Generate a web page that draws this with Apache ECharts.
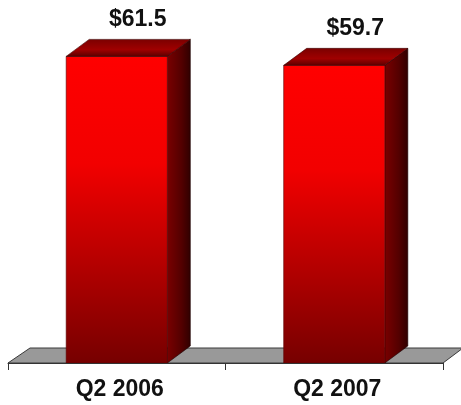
<!DOCTYPE html>
<html>
<head>
<meta charset="utf-8">
<script src="https://cdn.jsdelivr.net/npm/echarts@6/dist/echarts.min.js"></script>
<style>
html,body{margin:0;padding:0;background:#fff;}
#chart{width:461px;height:405px;}
</style>
</head>
<body>
<div id="chart"></div>
<script>
const categories = ['Q2 2006', 'Q2 2007'];
const values = [61.5, 59.7];
const valueLabels = ['$61.5', '$59.7'];

const DX = 23, DY = 17;
const FONT = '"Liberation Sans", Arial, sans-serif';

const chart = echarts.init(document.getElementById('chart'), null, {renderer: 'canvas'});

function renderFloor(params, api) {
  const cs = params.coordSys;
  const yb = cs.y + cs.height;
  const xl = cs.x, xr = cs.x + cs.width;
  return {
    type: 'polygon',
    shape: {points: [[xl, yb], [xr, yb], [xr + DX - 3, yb - DY + 2], [xl + DX - 1, yb - DY + 2]]},
    style: {fill: '#999999', stroke: '#3a3a3a', lineWidth: 1}
  };
}

function renderBar(params, api) {
  const idx = api.value(0);
  const top = api.coord([idx, api.value(1)]);
  const base = api.coord([idx, 0]);
  const bw = api.size([1, 0])[0] * 0.465;
  const x0 = top[0] - bw / 2, x1 = top[0] + bw / 2;
  const yt = top[1], yb = base[1];
  return {
    type: 'group',
    children: [
      {
        type: 'polygon',
        shape: {points: [[x1, yt], [x1 + DX, yt - DY], [x1 + DX, yb - DY], [x1, yb]]},
        style: {
          fill: {type: 'linear', x: 0, y: 0, x2: 1, y2: 0, colorStops: [
            {offset: 0, color: '#7a0000'}, {offset: 0.6, color: '#540000'}, {offset: 1, color: '#300000'}]},
          stroke: '#1a0000', lineWidth: 0.6
        }
      },
      {
        type: 'rect',
        shape: {x: x0, y: yt, width: bw, height: yb - yt},
        style: {
          fill: {type: 'linear', x: 0, y: 0, x2: 0, y2: 1, colorStops: [
            {offset: 0, color: '#ff0000'}, {offset: 0.35, color: '#f20000'},
            {offset: 0.7, color: '#b00000'}, {offset: 1, color: '#760000'}]},
          stroke: '#5a0000', lineWidth: 0.6
        }
      },
      {
        type: 'polygon',
        shape: {points: [[x0, yt], [x1, yt], [x1 + DX, yt - DY], [x0 + DX, yt - DY]]},
        style: {
          fill: {type: 'linear', x: 0, y: 0, x2: 0, y2: 1, colorStops: [
            {offset: 0, color: '#7a0000'}, {offset: 0.6, color: '#a00000'}, {offset: 1, color: '#5a0000'}]},
          stroke: '#3a0000', lineWidth: 0.6
        }
      },
      {
        type: 'text',
        style: {
          text: valueLabels[params.dataIndex],
          x: top[0] + 21, y: yt - DY - 20,
          align: 'center', verticalAlign: 'middle',
          font: 'bold 23px ' + FONT, fill: '#111'
        }
      }
    ]
  };
}

chart.setOption({
  animation: false,
  backgroundColor: '#ffffff',
  grid: {left: 8, right: 18, top: 14, bottom: 42},
  xAxis: {
    type: 'category',
    data: categories,
    boundaryGap: true,
    axisLine: {show: true, lineStyle: {color: '#333', width: 1}},
    axisTick: {show: true, length: 7, lineStyle: {color: '#333'}},
    axisLabel: {
      margin: 15, color: '#111', fontSize: 23, fontWeight: 'bold', fontFamily: FONT,
      padding: [0, 0, 0, 6]
    },
    z: 5
  },
  yAxis: {
    type: 'value', min: 0, max: 70, show: false,
    splitLine: {show: false}
  },
  series: [
    {
      type: 'custom',
      renderItem: renderFloor,
      data: [[0, 0]],
      clip: false,
      z: 1,
      silent: true
    },
    {
      type: 'custom',
      renderItem: renderBar,
      encode: {x: 0, y: 1},
      data: values.map((v, i) => [i, v]),
      clip: false,
      z: 3
    }
  ]
});
</script>
</body>
</html>
